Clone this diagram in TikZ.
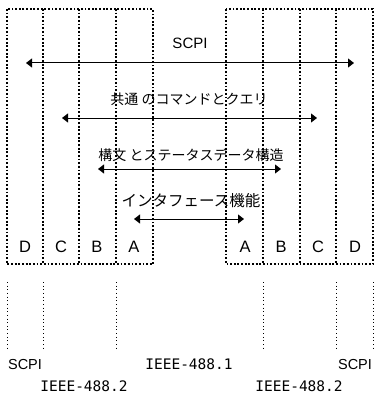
\documentclass[tikz,border=0pt]{standalone}
\usepackage{fontspec}
\setmainfont{Liberation Sans}
\newfontfamily\jpfont{Noto Sans CJK JP}
\newfontfamily\monofont{DejaVu Sans Mono}
\usetikzlibrary{arrows.meta}
\tikzset{
  boxline/.style={line width=1.8pt, dash pattern=on 1.8pt off 1.85pt},
  thinline/.style={line width=1pt, dash pattern=on 1pt off 2.65pt},
  twoway/.style={line width=1pt, {Triangle[length=6pt,width=9pt]}-{Triangle[length=6pt,width=9pt]}},
  jplabel/.style={font=\jpfont\fontsize{14}{16}\selectfont, inner sep=0pt, anchor=base},
  letter/.style={font=\fontsize{16.5}{18}\selectfont, inner sep=0pt, anchor=base},
  stdlabel/.style={font=\monofont\fontsize{14.5}{16}\selectfont, inner sep=0pt, anchor=base}
}
\begin{document}
\begin{tikzpicture}[x=1pt,y=-1pt]
        \useasboundingbox (0,0) rectangle (374,393);
        % the two stacks
        \draw[boxline] (7,9) rectangle (153,264);
        \draw[boxline] (226,9) rectangle (373,264);
        \foreach \x in {43,79,116,263,300,336}
            \draw[boxline] (\x,9) -- (\x,264);
        \foreach \x in {7,43,116,263,336,373}
            \draw[thinline] (\x,282) -- (\x,348);

        % layer arrows
        \coordinate (scpiL) at (26,63);    \coordinate (scpiR) at (354,63);
        \coordinate (cmdL) at (62,118);    \coordinate (cmdR) at (317,118);
        \coordinate (synL) at (98,169);    \coordinate (synR) at (281,169);
        \coordinate (ifL) at (134,219);    \coordinate (ifR) at (244,219);
        \draw[twoway] (scpiL) -- (scpiR);
        \draw[twoway] (cmdL) -- (cmdR);
        \draw[twoway] (synL) -- (synR);
        \draw[twoway] (ifL) -- (ifR);

        \node[font=\fontsize{15}{17}\selectfont, inner sep=0pt, anchor=base] (scpi) at (190,49) {SCPI};
        \node[jplabel] (cmd) at (189,105) {共通 のコマンドとクエリ};
        \node[jplabel] (syn) at (191,160) {構文 とステータスデータ構造};
        \node[jplabel, font=\jpfont\fontsize{15.5}{17}\selectfont] (iface) at (191,206) {インタフェース機能};

        % column letters
        \node[letter] (lD) at (25,252) {D};
        \node[letter] (lC) at (61,252) {C};
        \node[letter] (lB) at (97,252) {B};
        \node[letter] (lA) at (134,252) {A};
        \node[letter] (rA) at (245,252) {A};
        \node[letter] (rB) at (281,252) {B};
        \node[letter] (rC) at (318,252) {C};
        \node[letter] (rD) at (355,252) {D};

        % standards
        \node[font=\fontsize{14.5}{16}\selectfont, inner sep=0pt, anchor=base] (scpiBL) at (25,369) {SCPI};
        \node[font=\fontsize{14.5}{16}\selectfont, inner sep=0pt, anchor=base] (scpiBR) at (355,369) {SCPI};
        \node[stdlabel] (ieeeBL) at (84,391) {IEEE-488.2};
        \node[stdlabel] (ieeeBM) at (189,369) {IEEE-488.1};
        \node[stdlabel] (ieeeBR) at (299,391) {IEEE-488.2};
\end{tikzpicture}
\end{document}
